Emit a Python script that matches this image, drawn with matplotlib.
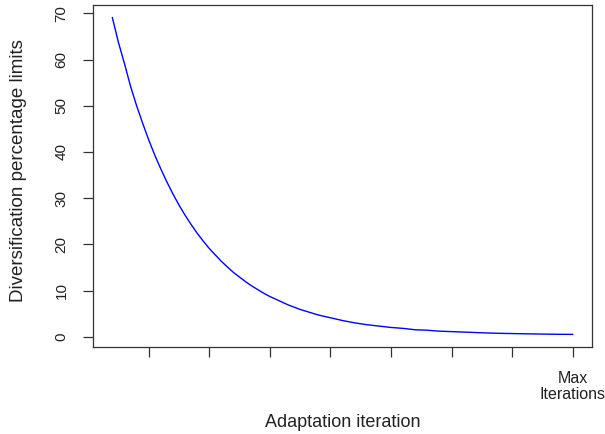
import numpy as np
import matplotlib
matplotlib.use("Agg")
import matplotlib.pyplot as plt

plt.rcParams['font.family'] = ['Liberation Sans', 'DejaVu Sans']

# values (half steps where it bends sharply)
iteration = [0, 0.5, 1, 1.5, 2, 2.5, 3, 3.5, 4, 4.5, 5, 5.5, 6, 6.5, 7, 7.5,
             8, 8.5, 9, 9.5, 10, 10.5, 11, 11.5, 12, 12.5, 13, 13.5, 14, 14.5,
             15, 15.5, 16, 17, 18, 19, 20, 21, 22, 23, 24, 25, 26, 27, 28,
             29, 30, 31, 32, 33, 34, 35, 36, 37, 38]
div_limit = [69.05, 63.7, 59.1, 54.2, 50.0, 46.2, 42.6, 39.3, 36.3, 33.5,
             30.9, 28.5, 26.3, 24.3, 22.4, 20.7, 19.1, 17.7, 16.3, 15.1,
             13.9, 12.9, 11.9, 11.0, 10.2, 9.4, 8.7, 8.1, 7.5, 6.9,
             6.4, 5.9, 5.5, 4.7, 4.1, 3.5, 3.0, 2.6, 2.3, 2.0,
             1.8, 1.5, 1.4, 1.2, 1.1, 1.0, 0.9, 0.8, 0.73, 0.68,
             0.63, 0.59, 0.55, 0.52, 0.50]

x_ticks = [3, 8, 13, 18, 23, 28, 33, 38]
x_ticklabels = ['', '', '', '', '', '', '', 'Max\nIterations']
y_ticks = [0, 10, 20, 30, 40, 50, 60, 70]

fig = plt.figure(figsize=(6.05, 4.34), dpi=100)
ax = fig.add_axes([93/605, 1 - 347/434, (592 - 93)/605, (347 - 5)/434])

ax.plot(iteration, div_limit, color='#0000ff', linewidth=1.0,
        solid_joinstyle='round')

ax.set_xlim(-1.6, 39.6)
ax.set_ylim(-2.23, 71.8)

ax.set_xticks(x_ticks)
ax.set_xticklabels(x_ticklabels, fontsize=11.5, color='#222222', linespacing=1.05)
ax.set_yticks(y_ticks)
ax.set_yticklabels([str(v) for v in y_ticks], fontsize=11, rotation=90,
                   va='center', color='#222222')

ax.tick_params(axis='both', direction='out', length=7.5, width=0.9,
               color='#333333', pad=10)

for s in ax.spines.values():
    s.set_color('#333333')
    s.set_linewidth(0.9)

ax.set_xlabel('Adaptation iteration', fontsize=13, color='#222222', va='center')
ax.xaxis.set_label_coords(0.5, -0.222)
ax.set_ylabel('Diversification percentage limits', fontsize=13.5,
              color='#222222', va='center')
ax.yaxis.set_label_coords(-0.149, 0.516)

fig.savefig('out.png', dpi=100)
